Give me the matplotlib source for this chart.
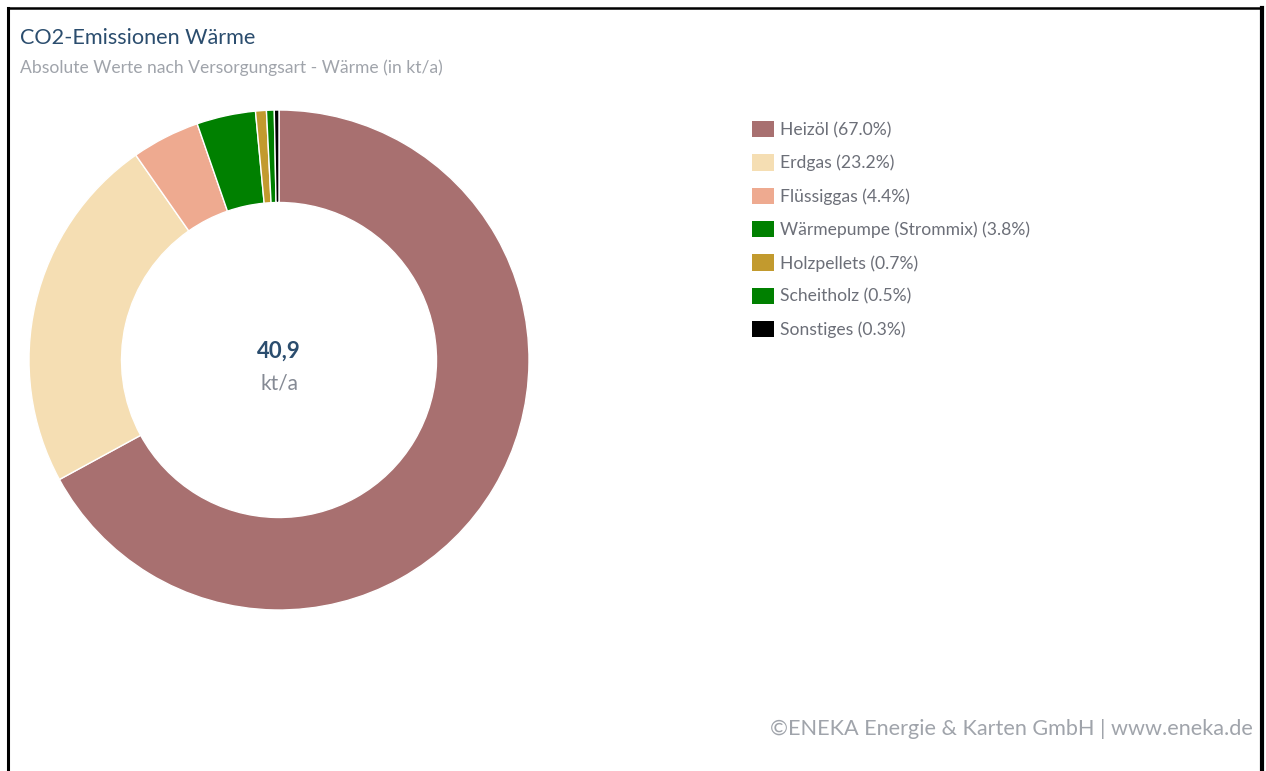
import matplotlib.pyplot as plt
from matplotlib.lines import Line2D

plt.rcParams['font.family'] = ['Lato', 'DejaVu Sans']

# Anteile an den CO2-Emissionen Waerme (in %)
categories = ['Heizöl', 'Erdgas', 'Flüssiggas', 'Wärmepumpe (Strommix)',
              'Holzpellets', 'Scheitholz', 'Sonstiges']
shares = [67.0, 23.2, 4.4, 3.8, 0.7, 0.5, 0.3]
colors = ['#a87070', '#f5deb3', '#eeaa90', '#008000', '#c29a2e', '#008000', '#000000']
total = '40,9'
unit = 'kt/a'

W, H = 1266, 771
fig = plt.figure(figsize=(W / 100, H / 100), dpi=100)

# frame around the chart (left, top, right)
fig.add_artist(Line2D([8 / W, 8 / W], [0, 1 - 8 / H], color='black', lw=2.2))
fig.add_artist(Line2D([8 / W, 1262 / W], [1 - 8 / H, 1 - 8 / H], color='black', lw=1.8))
fig.add_artist(Line2D([1262 / W, 1262 / W], [0, 1 - 8 / H], color='black', lw=3))

# donut
cx, cy, r = 279, 360, 250
ax = fig.add_axes([(cx - r) / W, 1 - (cy + r) / H, 2 * r / W, 2 * r / H])
wedges, _ = ax.pie(shares, colors=colors, startangle=90, counterclock=False,
                   radius=1, wedgeprops=dict(width=0.37, edgecolor='white', linewidth=1))
ax.set_xlim(-1, 1)
ax.set_ylim(-1, 1)
ax.set_aspect('equal')
ax.axis('off')

ax.text(0, 0.035, total, ha='center', va='center', fontsize=16, fontweight='bold', color='#2b4d6e')
ax.text(0, -0.095, unit, ha='center', va='center', fontsize=15, color='#858a94')

labels = [f'{c} ({s:.1f}%)' for c, s in zip(categories, shares)]
leg = fig.legend(wedges, labels, loc='upper left', bbox_to_anchor=(752 / W, 1 - 121 / H),
                 frameon=False, fontsize=12.6, handlelength=1.26, handleheight=1.05,
                 handletextpad=0.34, labelspacing=0.93, borderpad=0, borderaxespad=0)
for t in leg.get_texts():
    t.set_color('#6c6f78')
for h in leg.legend_handles:
    h.set_edgecolor('none')

fig.text(20 / W, 1 - 38 / H, 'CO2-Emissionen Wärme', fontsize=15.6, color='#2b4d6e', va='center')
fig.text(20 / W, 1 - 68 / H, 'Absolute Werte nach Versorgungsart - Wärme (in kt/a)',
         fontsize=12.6, color='#a0a4ab', va='center')
fig.text(1253 / W, 1 - 729 / H, '©ENEKA Energie & Karten GmbH | www.eneka.de',
         fontsize=15.6, color='#a0a4ab', ha='right', va='center')

fig.savefig('out.png', dpi=100, facecolor='white')
